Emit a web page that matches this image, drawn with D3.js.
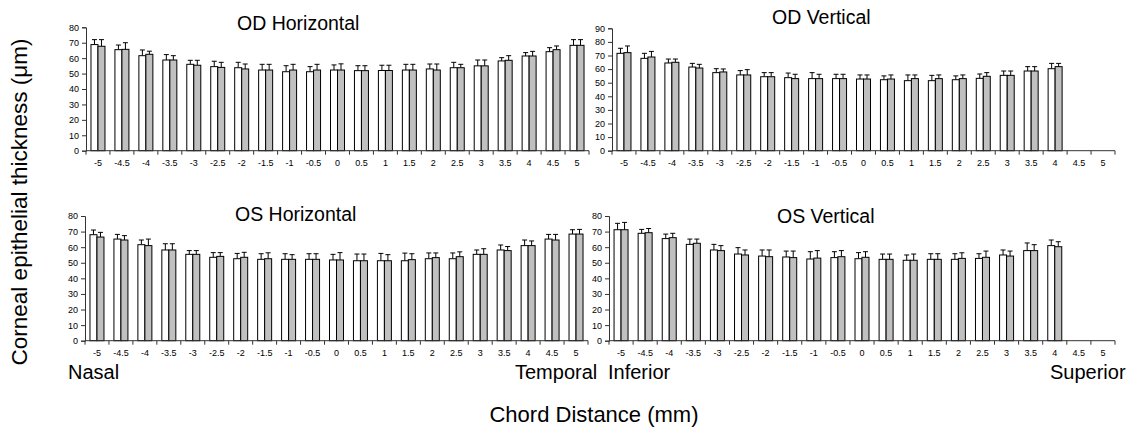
<!DOCTYPE html>
<html><head><meta charset="utf-8">
<script src="https://cdn.jsdelivr.net/npm/d3@7"></script>
<style>
html,body{margin:0;padding:0;background:#fff;}
svg text{fill:#000;}
.tick text{font-family:"Liberation Sans Narrow","Arial Narrow","Liberation Sans",sans-serif;font-size:9px;}
</style></head>
<body><svg id="c" width="1128" height="430"></svg>
<script>
const categories = ["-5","-4.5","-4","-3.5","-3","-2.5","-2","-1.5","-1","-0.5","0","0.5","1","1.5","2","2.5","3","3.5","4","4.5","5"];

const odHorWhite = [68.8,65.5,61.6,58.8,56,54.5,53.8,52.3,51.2,51.2,52.3,51.9,52,52.3,53,53.8,55,58.2,61.4,64.2,68.3];
const odHorWhiteSD = [3.2,3,3.7,3.5,2.6,3.5,3.5,3.7,3.9,3.3,3.3,3.2,3.4,3.7,3.2,3.5,3.8,2.1,2.2,2.6,3.7];
const odHorGray = [67.7,65.7,62.5,58.8,55.4,54,53,52.3,52.3,52.3,52.3,51.9,52,52.3,52.3,53.8,55,58.6,61.4,65.5,68.3];
const odHorGraySD = [4.3,4.3,2,2.8,3.2,3.3,3.2,3.7,3.7,3.7,4,3.2,3.4,3.7,3.9,2.2,3.8,3,3,2.4,3.7];

const odVerWhite = [71.6,67.9,64.5,61.5,57.4,55.7,54.4,53.7,53,53,52.7,52.2,51.5,51.5,52.2,53.2,55.4,58.6,60.3,null,null];
const odVerWhiteSD = [3.7,3.7,2.9,2.7,2.9,3.2,3,3.4,4.4,3.2,3,2.8,4.2,3.9,2.8,3.2,3.2,3.2,3.9,null,null];
const odVerGray = [72.1,68.9,65,60.8,57.9,55.7,54.4,53,53,53,52.7,52.7,53,53,53,54.7,55.4,58.6,61.8,null,null];
const odVerGraySD = [4.9,4.1,2.4,2.7,2.2,3.9,3,3.2,3.2,3.2,3,3,2.7,2.7,2.7,2.7,3.2,3.2,2.4,null,null];

const osHorWhite = [68,65.2,61.6,58.2,55.4,53.5,52.6,52.2,52.2,52.2,51.8,51.3,51.3,51.3,52.6,52.6,55.4,58.2,61,65.2,68.4];
const osHorWhiteSD = [3,3,3,4,2.4,3,3.4,3.6,3.6,3.6,3.6,4.3,4.7,4.9,3.7,3.7,2.8,3.2,3.6,3,2.8];
const osHorGray = [66.5,64.6,61,58.2,55.4,54.1,53.5,52.6,52.2,52.2,51.8,51.3,51.3,52,53.3,53.9,55.4,57.8,61,64.6,68.4];
const osHorGraySD = [3,2.8,4.2,4,2.4,2.4,3.2,3.8,3,3.6,4.7,4.3,3.9,3.8,3,3.1,3.6,2.6,3,3.6,3];

const osVerWhite = [71.2,68.9,65.5,61.8,58.2,55.6,54.3,53.7,52.4,53.3,52.6,52.2,51.6,52.2,52.2,52.8,55,57.8,61,null,null];
const osVerWhiteSD = [4.1,2.5,2.9,3.4,3.6,4.1,3.9,3.8,4.7,3.8,3.9,3.4,3.4,3.6,3.6,3,3.2,4.9,3.6,null,null];
const osVerGray = [71.2,69.3,66.1,62.5,57.8,55,53.9,53.3,53,53.9,53.5,52.2,51.6,52.2,52.8,53.5,54.3,57.8,60.3,null,null];
const osVerGraySD = [4.7,2.7,2.8,2.7,3.2,3.2,4.3,4.2,4.8,3.9,3.6,3.4,4,3.6,3.6,4,3.2,3.8,3.2,null,null];

const yTicks80 = [0,10,20,30,40,50,60,70,80];
const yTicks90 = [0,10,20,30,40,50,60,70,80,90];

const panels = [
  {title:"OD Horizontal", white:odHorWhite, wsd:odHorWhiteSD, gray:odHorGray, gsd:odHorGraySD, ticks:yTicks80,
   x0:86, x1:589, yb:150.7, yt:27.3, tx:237, ty:30},
  {title:"OD Vertical", white:odVerWhite, wsd:odVerWhiteSD, gray:odVerGray, gsd:odVerGraySD, ticks:yTicks90,
   x0:612, x1:1115, yb:150.7, yt:28.3, tx:772, ty:24},
  {title:"OS Horizontal", white:osHorWhite, wsd:osHorWhiteSD, gray:osHorGray, gsd:osHorGraySD, ticks:yTicks80,
   x0:85, x1:588, yb:340.7, yt:216, tx:235, ty:221},
  {title:"OS Vertical", white:osVerWhite, wsd:osVerWhiteSD, gray:osVerGray, gsd:osVerGraySD, ticks:yTicks80,
   x0:609, x1:1115, yb:340.7, yt:216, tx:777, ty:223}
];

const svg = d3.select("#c");
svg.append("rect").attr("width",1128).attr("height",430).attr("fill","#fff");

const barW = 7, capW = 5;

panels.forEach(p => {
  const ymax = p.ticks[p.ticks.length-1];
  const y = d3.scaleLinear().domain([0, ymax]).range([p.yb, p.yt]);
  const x = d3.scaleBand().domain(categories).range([p.x0, p.x1]).padding(0);
  const g = svg.append("g");

  const series = [
    {vals:p.white, sd:p.wsd, fill:"#ffffff", off:-barW},
    {vals:p.gray, sd:p.gsd, fill:"#c0c0c0", off:0}
  ];
  series.forEach(s => {
    categories.forEach((c,i) => {
      const v = s.vals[i];
      if (v == null) return;
      const cx = x(c) + x.bandwidth()/2 + s.off;
      const mid = cx + barW/2;
      const top = y(v + s.sd[i]);
      g.append("line").attr("x1",mid).attr("x2",mid).attr("y1",y(v)).attr("y2",top)
        .attr("stroke","#000").attr("stroke-width",1);
      g.append("line").attr("x1",mid-capW/2).attr("x2",mid+capW/2).attr("y1",top).attr("y2",top)
        .attr("stroke","#000").attr("stroke-width",1);
      g.append("rect").attr("x",cx).attr("y",y(v)).attr("width",barW).attr("height",y(0)-y(v))
        .attr("fill",s.fill).attr("stroke","#000").attr("stroke-width",1);
    });
  });

  const ya = g.append("g").attr("transform",`translate(${p.x0},0)`)
    .call(d3.axisLeft(y).tickValues(p.ticks).tickSize(4).tickPadding(3).tickFormat(d3.format("d")));
  ya.selectAll("path,line").attr("stroke","#333");

  const xa = g.append("g").attr("transform",`translate(0,${p.yb})`)
    .call(d3.axisBottom(x).tickSize(0).tickPadding(9));
  xa.select("path").remove();
  g.append("line").attr("x1",p.x0).attr("x2",p.x1).attr("y1",p.yb).attr("y2",p.yb).attr("stroke","#333");
  const bounds = d3.range(categories.length+1).map(i => p.x0 + i*x.step());
  g.selectAll(null).data(bounds).enter().append("line")
    .attr("x1",d=>d).attr("x2",d=>d).attr("y1",p.yb).attr("y2",p.yb+4).attr("stroke","#333");

  g.append("text").attr("x",p.tx).attr("y",p.ty)
    .attr("font-family","Liberation Sans, Arial, sans-serif").attr("font-size",19.5).text(p.title);
});

const sans = "'Liberation Sans',Arial,sans-serif";
[["Nasal",68],["Temporal",515],["Inferior",608],["Superior",1050]].forEach(([t,xx]) => {
  svg.append("text").attr("x",xx).attr("y",379).attr("font-family",sans).attr("font-size",20).text(t);
});

svg.append("text").attr("x",594).attr("y",422).attr("text-anchor","middle")
  .attr("font-family",sans).attr("font-size",22).text("Chord Distance (mm)");

svg.append("text").attr("transform","translate(27,202) rotate(-90)").attr("text-anchor","middle")
  .attr("font-family",sans).attr("font-size",22.5).text("Corneal epithelial thickness (\u03bcm)");
</script></body></html>
